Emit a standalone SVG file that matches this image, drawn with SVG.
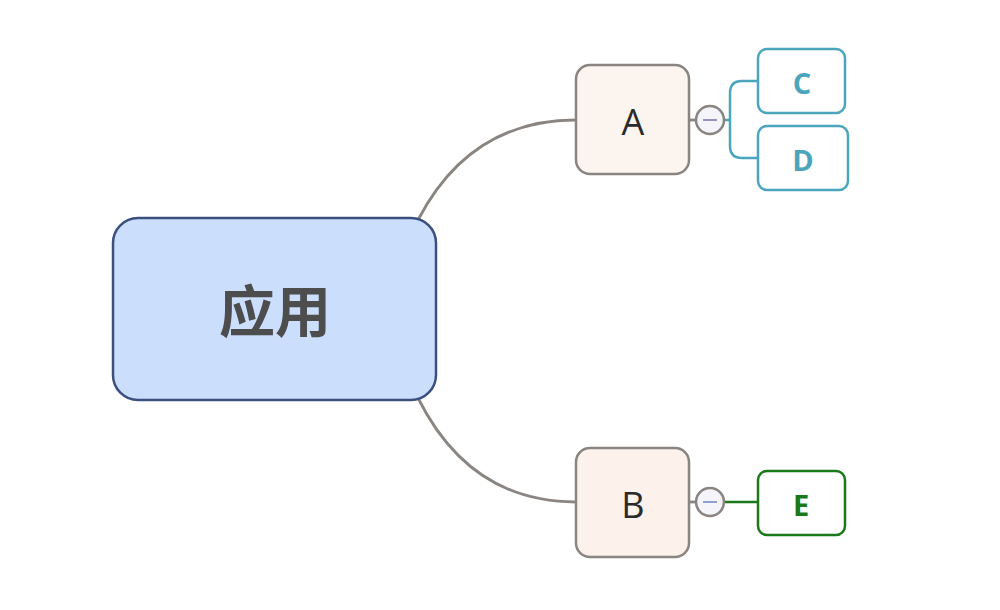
<svg xmlns="http://www.w3.org/2000/svg" width="1000" height="610" viewBox="0 0 1000 610">
<style>
.sub{fill:#fcf4ee;stroke:#8a8580;stroke-width:2.5}
.lvl{font-family:"Open Sans","Noto Sans",sans-serif;font-size:36px;fill:#2b2b2b;text-anchor:middle}
.leafb{fill:#ffffff;stroke:#4aa5bd;stroke-width:2.5}
.leaft{font-family:"Open Sans","Noto Sans",sans-serif;font-weight:bold;font-size:29px;text-anchor:middle}
.tog{fill:#f4f4fa;stroke:#8a8580;stroke-width:2.5}
.conn{fill:none;stroke:#8a8580;stroke-width:2.8}
</style>
<rect width="1000" height="610" fill="#ffffff"/>
<g id="connectors">
<path class="conn" d="M418,220 Q470,120 576,120"/>
<path class="conn" d="M418,398 Q470,502 576,502"/>
<line class="conn" x1="689" y1="120" x2="696" y2="120"/>
<line class="conn" x1="689" y1="502" x2="696" y2="502"/>
<path fill="none" stroke="#4aa5bd" stroke-width="2.5" d="M724,120 H730 M758,81 H742 Q730,81 730,93 V146 Q730,158 742,158 H758"/>
<line stroke="#1a7a1a" stroke-width="2.5" x1="724" y1="502" x2="758" y2="502"/>
</g>
<g id="root">
<rect x="113" y="218" width="323" height="182" rx="25" fill="#cbdefc" stroke="#3c5080" stroke-width="2.5"/>
<text x="275" y="332" font-family="Noto Sans CJK SC, sans-serif" font-weight="bold" font-size="56" fill="#4d4d4d" text-anchor="middle">应用</text>
</g>
<g id="nodeA">
<rect class="sub" x="576" y="65" width="113" height="109" rx="14"/>
<text class="lvl" x="633" y="135">A</text>
</g>
<g id="toggleA">
<circle class="tog" cx="710" cy="120" r="14"/>
<line x1="703" y1="120" x2="717" y2="120" stroke="#9c8fc8" stroke-width="2"/>
</g>
<g id="nodeB">
<rect class="sub" x="576" y="448" width="113" height="109" rx="14" style="fill:#fdf1ec"/>
<text class="lvl" x="633" y="518">B</text>
</g>
<g id="toggleB">
<circle class="tog" cx="710" cy="502" r="14"/>
<line x1="703" y1="502" x2="717" y2="502" stroke="#8f9fd0" stroke-width="2"/>
</g>
<g id="nodeC">
<rect class="leafb" x="758" y="49" width="87" height="64" rx="9"/>
<text class="leaft" x="802" y="94" fill="#4aa5bd">C</text>
</g>
<g id="nodeD">
<rect class="leafb" x="758" y="126" width="90" height="64" rx="9"/>
<text class="leaft" x="803" y="171" fill="#4aa5bd">D</text>
</g>
<g id="nodeE">
<rect x="758" y="471" width="87" height="64" rx="9" fill="#ffffff" stroke="#1a7a1a" stroke-width="2.5"/>
<text class="leaft" x="801" y="516" fill="#1a7a1a">E</text>
</g>
</svg>
